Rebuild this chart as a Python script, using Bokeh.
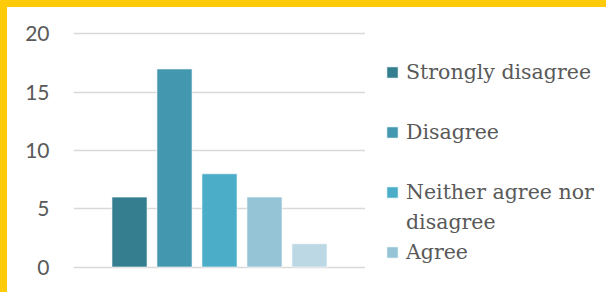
from bokeh.plotting import figure
from bokeh.layouts import row
from bokeh.models import (ColumnDataSource, FactorRange, Range1d, Legend, LegendItem,
                          FixedTicker, GlobalInlineStyleSheet)
from bokeh.embed import file_html
from bokeh.resources import INLINE

# ---- data ----
categories = ["Strongly disagree", "Disagree", "Neither agree nor disagree", "Agree", "Strongly agree"]
counts = [6, 17, 8, 6, 2]
colors = ["#357E90", "#4397AE", "#4BADC7", "#94C4D5", "#BDD8E5"]
# legend rows as shown (the 5th entry is cut off in the source picture)
legend_rows = [("Strongly disagree", 0), ("", None), ("Disagree", 1), ("", None),
               ("Neither agree nor", 2), ("disagree", None), ("Agree", 3)]
y_ticks = [0, 5, 10, 15, 20]

source = ColumnDataSource(dict(cat=categories, count=counts, color=colors))

# ---- chart ----
p = figure(width=358, height=285, output_backend="svg", toolbar_location=None,
           x_range=FactorRange(factors=categories, range_padding=0.298),
           y_range=Range1d(-0.3, 20.3),
           min_border_left=66, min_border_right=0, min_border_top=23, min_border_bottom=22)
p.background_fill_color = "white"
p.border_fill_color = "white"
p.outline_line_color = None

r = p.vbar(x="cat", top="count", bottom=0, width=0.78, source=source,
           fill_color="color", line_color="white", line_width=0.6)

p.xaxis.visible = False
p.xgrid.visible = False
p.ygrid.grid_line_color = "#D9D9D9"
p.ygrid.grid_line_width = 1.5
p.yaxis.ticker = FixedTicker(ticks=y_ticks)
p.yaxis.axis_line_color = None
p.yaxis.major_tick_line_color = None
p.yaxis.minor_tick_line_color = None
p.yaxis.major_tick_out = 0
p.yaxis.major_label_standoff = 24
p.yaxis.major_label_text_font = "Lato"
p.yaxis.major_label_text_font_size = "21px"
p.yaxis.major_label_text_color = "#595959"

# ---- legend panel (same data, glyphs only used for the legend swatches) ----
pl = figure(width=241, height=285, output_backend="svg", toolbar_location=None,
            x_range=FactorRange(factors=categories), y_range=Range1d(0, 20),
            x_axis_location=None, y_axis_location=None,
            min_border_left=0, min_border_right=0, min_border_top=0, min_border_bottom=0)
pl.grid.visible = False
pl.outline_line_color = None
pl.background_fill_color = "white"
pl.border_fill_color = "white"
rl = pl.vbar(x="cat", top="count", bottom=0, width=0.78, source=source,
             fill_color="color", line_color="white", line_width=0.6, visible=False)

items = [LegendItem(label=lab, renderers=([rl] if idx is not None else []),
                    index=(idx if idx is not None else None))
         for lab, idx in legend_rows]
legend = Legend(items=items, location=(20, 6), orientation="vertical",
                label_text_font="DejaVu Serif", label_text_font_size="20.5px",
                label_text_color="#595959", glyph_width=14, glyph_height=14,
                label_standoff=7, label_height=24, spacing=6, padding=0, margin=0,
                border_line_color=None, background_fill_alpha=0,
                inactive_fill_alpha=0)
pl.add_layout(legend, "center")

layout = row(p, pl)
layout.margin = (7, 0, 0, 7)
layout.styles = {"background-color": "white"}
layout.stylesheets = [GlobalInlineStyleSheet(css="body { background: #FFCA08; }")]

open("out.html", "w").write(file_html(layout, INLINE))
